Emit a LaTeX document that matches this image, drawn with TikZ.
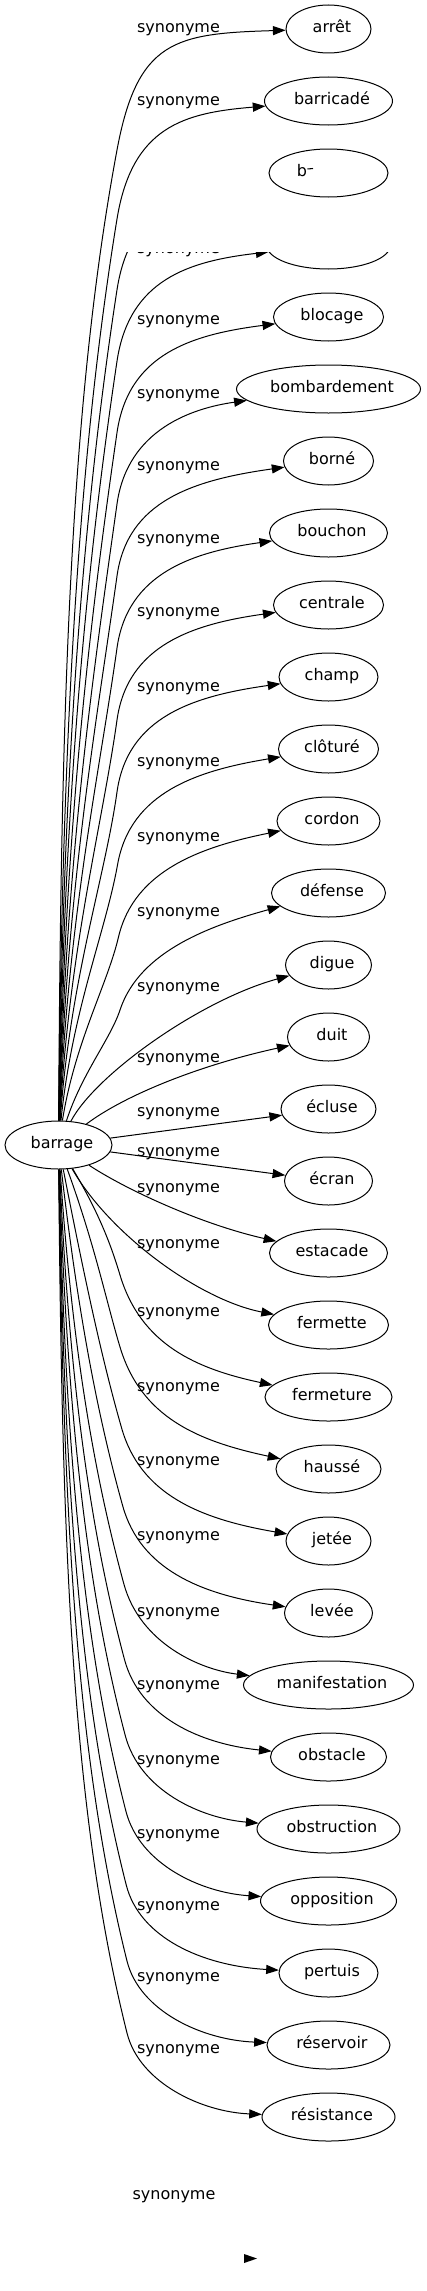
\documentclass[tikz,border=0pt]{standalone}
\usepackage{fontspec}
\setmainfont{DejaVu Sans}
\usetikzlibrary{shapes.geometric,arrows.meta}
% upper edge: #1 target, #2 target y, #3 shape parameter (0..2), #4 x of first control
\newcommand\edgeU[4]{%
  \pgfmathsetmacro\ea{min(#3,1)}%
  \pgfmathsetmacro\eb{max(#3-1,0)}%
  \pgfmathsetmacro\eMx{117+3*\eb}%
  \pgfmathsetmacro\eMm{121-6*\ea+2*\eb}%
  \pgfmathsetmacro\eTg{0.186-0.046*\ea+0.19*\eb}%
  \pgfmathsetmacro\eCl{110-35*\ea-15*\eb}%
  \pgfmathsetmacro\eCfx{175+18*\ea+20*\eb}%
  \pgfmathsetmacro\eCfy{4.5+14.5*\ea+13*\eb}%
  \pgfmathsetmacro\eMy{#2+\eMm}%
  \pgfmathsetmacro\eLen{1121-\eMy}%
  \pgfmathsetmacro\eK{0.26*\eLen}%
  \draw[conn] (barrage) .. controls (#4,1121-0.43*\eLen) and (\eMx-\eTg*\eK,\eMy+\eK) .. (\eMx,\eMy)
     .. controls (\eMx+\eTg*\eCl,\eMy-\eCl) and (\eCfx,#2+\eCfy) .. (#1);%
}
% lower edge: #1 target, #2 target y, #3 shape parameter (0..1), #4 x of first control
\newcommand\edgeL[4]{%
  \pgfmathsetmacro\eMx{120+7*#3}%
  \pgfmathsetmacro\eMm{122-38*#3}%
  \pgfmathsetmacro\eTg{0.3-0.05*#3}%
  \pgfmathsetmacro\eCl{70-20*#3}%
  \pgfmathsetmacro\eCfx{197+5*#3}%
  \pgfmathsetmacro\eCfy{28-23*#3}%
  \pgfmathsetmacro\eMy{#2-\eMm}%
  \pgfmathsetmacro\eLen{\eMy-1169}%
  \pgfmathsetmacro\eK{0.26*\eLen}%
  \draw[conn] (barrage) .. controls (#4,1169+0.43*\eLen) and (\eMx-\eTg*\eK,\eMy-\eK) .. (\eMx,\eMy)
     .. controls (\eMx+\eTg*\eCl,\eMy+\eCl) and (\eCfx,#2-\eCfy) .. (#1);%
}
\begin{document}
\begin{tikzpicture}[x=0.75pt,y=-0.75pt,
  every node/.style={font=\fontsize{12pt}{14pt}\selectfont},
  txt/.style={inner sep=0pt, text height=0.76em, text depth=0.24em},
  nd/.style={ellipse, draw, line width=0.75pt, minimum height=36pt, minimum width={#1*0.75pt}, inner sep=0pt},
  nt/.style={txt, xshift=2.6pt},
  lab/.style={txt},
  conn/.style={draw, line width=0.75pt, -{Triangle[length=9.5pt,width=6.8pt]}}
]
\useasboundingbox (0,0) rectangle (426,2291);

% source
\node[nd=107, label={[nt]center:barrage}] (barrage) at (58.5,1145) {};

% targets
\node[nd=85,  label={[nt]center:arrêt}] (n0) at (328.5,29) {};
\node[nd=128, label={[nt]center:barricadé}] (n1) at (328.5,101) {};
\node[nd=119] (n2) at (328.5,173) {};
\node[txt] (n2t) at (302,173) {b};
\draw[line width=0.8pt] (307.5,169) -- (313,168.5);
\node[nd=110, label={[nt]center:blocage}] (n4) at (328.5,317) {};
\node[nd=184, label={[nt]center:bombardement}] (n5) at (328.5,389) {};
\node[nd=90,  label={[nt]center:borné}] (n6) at (328.5,461) {};
\node[nd=118, label={[nt]center:bouchon}] (n7) at (328.5,533) {};
\node[nd=110, label={[nt]center:centrale}] (n8) at (328.5,605) {};
\node[nd=99,  label={[nt]center:champ}] (n9) at (328.5,677) {};
\node[nd=100, label={[nt]center:clôturé}] (n10) at (328.5,749) {};
\node[nd=103, label={[nt]center:cordon}] (n11) at (328.5,821) {};
\node[nd=114, label={[nt]center:défense}] (n12) at (328.5,893) {};
\node[nd=86,  label={[nt]center:digue}] (n13) at (328.5,965) {};
\node[nd=82,  label={[nt]center:duit}] (n14) at (328.5,1037) {};
\node[nd=95,  label={[nt]center:écluse}] (n15) at (328.5,1109) {};
\node[nd=88,  label={[nt]center:écran}] (n16) at (328.5,1181) {};
\node[nd=118, label={[nt]center:estacade}] (n17) at (328.5,1253) {};
\node[nd=120, label={[nt]center:fermette}] (n18) at (328.5,1325) {};
\node[nd=127, label={[nt]center:fermeture}] (n19) at (328.5,1397) {};
\node[nd=105, label={[nt]center:haussé}] (n20) at (328.5,1469) {};
\node[nd=85,  label={[nt]center:jetée}] (n21) at (328.5,1541) {};
\node[nd=88,  label={[nt]center:levée}] (n22) at (328.5,1613) {};
\node[nd=170, label={[nt]center:manifestation}] (n23) at (328.5,1685) {};
\node[nd=116, label={[nt]center:obstacle}] (n24) at (328.5,1757) {};
\node[nd=143, label={[nt]center:obstruction}] (n25) at (328.5,1829) {};
\node[nd=136, label={[nt]center:opposition}] (n26) at (328.5,1901) {};
\node[nd=99,  label={[nt]center:pertuis}] (n27) at (328.5,1973) {};
\node[nd=123, label={[nt]center:réservoir}] (n28) at (328.5,2045) {};
\node[nd=133, label={[nt]center:résistance}] (n29) at (328.5,2117) {};

% edge labels
\node[lab] (l0) at (178.5,29) {synonyme};
\node[lab] (l1) at (178.5,102) {synonyme};
\node[lab] (l4) at (178.5,321) {synonyme};
\node[lab] (l5) at (178.5,395) {synonyme};
\node[lab] (l6) at (178.5,467) {synonyme};
\node[lab] (l7) at (178.5,540) {synonyme};
\node[lab] (l8) at (178.5,613) {synonyme};
\node[lab] (l9) at (178.5,688) {synonyme};
\node[lab] (l10) at (178.5,763) {synonyme};
\node[lab] (l11) at (178.5,838) {synonyme};
\node[lab] (l12) at (178.5,913) {synonyme};
\node[lab] (l13) at (178.5,988) {synonyme};
\node[lab] (l14) at (178.5,1059) {synonyme};
\node[lab] (l15) at (178.5,1113) {synonyme};
\node[lab] (l16) at (178.5,1153) {synonyme};
\node[lab] (l17) at (178.5,1189) {synonyme};
\node[lab] (l18) at (178.5,1245) {synonyme};
\node[lab] (l19) at (178.5,1313) {synonyme};
\node[lab] (l20) at (178.5,1388) {synonyme};
\node[lab] (l21) at (178.5,1462) {synonyme};
\node[lab] (l22) at (178.5,1537) {synonyme};
\node[lab] (l23) at (178.5,1613) {synonyme};
\node[lab] (l24) at (178.5,1686) {synonyme};
\node[lab] (l25) at (178.5,1761) {synonyme};
\node[lab] (l26) at (178.5,1835) {synonyme};
\node[lab] (l27) at (178.5,1907) {synonyme};
\node[lab] (l28) at (178.5,1978) {synonyme};
\node[lab] (l29) at (178.5,2050) {synonyme};
\node[lab] (l30) at (174,2196) {synonyme};
\fill (244,2254) -- (257,2258.5) -- (244,2263) -- cycle;

% partly visible part
\begin{scope}
  \clip (0,252) rectangle (426,2291);
  \node[nd=124] (n3) at (328.5,245) {};
  \node[lab] (l3) at (178.5,250) {synonyme};
  \edgeU{n3}{245}{0.8}{64}
  \edgeU{n2}{173}{0.7}{63}
\end{scope}

% upper connectors
\edgeU{n0}{29}{0}{61}
\edgeU{n1}{101}{0.5}{62}
\edgeU{n4}{317}{0.9}{65}
\edgeU{n5}{389}{1}{66}
\edgeU{n6}{461}{1}{67}
\edgeU{n7}{533}{1}{68}
\edgeU{n8}{605}{1}{69}
\edgeU{n9}{677}{1}{70}
\edgeU{n10}{749}{1.2}{72}
\edgeU{n11}{821}{1.5}{75}
\edgeU{n12}{893}{2}{82}
\draw[conn] (barrage) .. controls (95,1075) and (200,1000) .. (n13);
\draw[conn] (barrage) .. controls (125,1095) and (200,1065) .. (n14);
\draw[conn] (barrage) -- (n15);
% lower connectors
\draw[conn] (barrage) -- (n16);
\draw[conn] (barrage) .. controls (125,1189) and (200,1224) .. (n17);
\draw[conn] (barrage) .. controls (110,1235) and (200,1300) .. (n18);
\edgeL{n19}{1397}{0}{100}
\edgeL{n20}{1469}{0}{95}
\edgeL{n21}{1541}{0.25}{85}
\edgeL{n22}{1613}{0.4}{78}
\edgeL{n23}{1685}{0.55}{72}
\edgeL{n24}{1757}{0.65}{69}
\edgeL{n25}{1829}{0.75}{67}
\edgeL{n26}{1901}{0.85}{65}
\edgeL{n27}{1973}{0.9}{64}
\edgeL{n28}{2045}{1}{63}
\edgeL{n29}{2117}{1}{62}
\end{tikzpicture}
\end{document}
